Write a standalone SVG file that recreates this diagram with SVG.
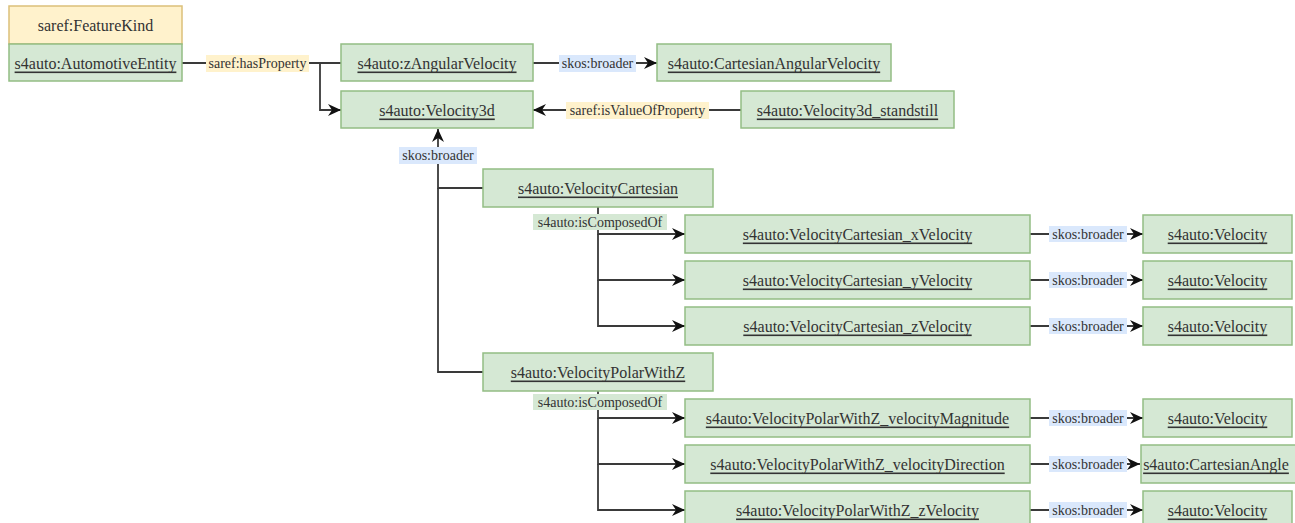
<svg xmlns="http://www.w3.org/2000/svg" width="1295" height="523" viewBox="0 0 1295 523">
  <style>
    .box { fill: #d5e8d4; stroke: #93bd84; stroke-width: 1.5; }
    .hdr { fill: #fff2cc; stroke: #dcc07a; stroke-width: 1.5; }
    .t { font-family: "Liberation Serif", "Times New Roman", serif; font-size: 16px; fill: #333333; text-anchor: middle; dominant-baseline: central; }
    .u { text-decoration: underline; }
    .ln { fill: none; stroke: #3a3a3a; stroke-width: 1.8; }
    .arr { marker-end: url(#head); }
    .lbl { font-family: "Liberation Serif", "Times New Roman", serif; font-size: 14px; fill: #333333; text-anchor: middle; dominant-baseline: central; }
    .bgY { fill: #fff2cc; }
    .bgB { fill: #dae8fc; }
    .bgG { fill: #d5e8d4; }
  </style>
  <defs>
    <marker id="head" viewBox="0 0 13 12" refX="13" refY="6" markerWidth="13" markerHeight="12" markerUnits="userSpaceOnUse" orient="auto">
      <path d="M0,0 L13,6 L0,12 L4,6 Z" fill="#111111"/>
    </marker>
  </defs>

  <rect width="1295" height="523" fill="#ffffff"/>

  <!-- connectors -->
  <g id="connectors">
    <!-- saref:hasProperty -->
    <path class="ln" d="M182,63 L341,63"/>
    <path class="ln arr" d="M320,63 L320,110 L341,110"/>
    <rect class="bgY" x="206" y="55" width="103" height="17"/>
    <text class="lbl" x="257.500" y="63">saref:hasProperty</text>

    <!-- zAngularVelocity skos:broader -->
    <path class="ln arr" d="M533,63 L657,63"/>
    <rect class="bgB" x="559" y="55" width="77" height="17"/>
    <text class="lbl" x="597.500" y="63">skos:broader</text>

    <!-- saref:isValueOfProperty -->
    <path class="ln arr" d="M741,110 L533,110"/>
    <rect class="bgY" x="566" y="102" width="143" height="17"/>
    <text class="lbl" x="637.500" y="110">saref:isValueOfProperty</text>

    <!-- skos:broader towards Velocity3d -->
    <path class="ln arr" d="M483,188 L438,188 L438,129"/>
    <path class="ln" d="M483,372 L438,372 L438,188"/>
    <rect class="bgB" x="399" y="147" width="78" height="17"/>
    <text class="lbl" x="438" y="155">skos:broader</text>

    <!-- VelocityCartesian isComposedOf -->
    <path class="ln arr" d="M598,207 L598,234 L685,234"/>
    <path class="ln arr" d="M598,234 L598,280 L685,280"/>
    <path class="ln arr" d="M598,280 L598,326 L685,326"/>
    <rect class="bgG" x="533" y="214" width="134" height="16"/>
    <text class="lbl" x="600" y="222">s4auto:isComposedOf</text>

    <!-- VelocityPolarWithZ isComposedOf -->
    <path class="ln arr" d="M598,391 L598,418 L685,418"/>
    <path class="ln arr" d="M598,418 L598,464 L685,464"/>
    <path class="ln arr" d="M598,464 L598,510 L685,510"/>
    <rect class="bgG" x="533" y="394" width="134" height="16"/>
    <text class="lbl" x="600" y="402">s4auto:isComposedOf</text>

    <!-- component skos:broader links -->
    <path class="ln arr" d="M1030,234 L1143,234"/>
    <path class="ln arr" d="M1030,280 L1143,280"/>
    <path class="ln arr" d="M1030,326 L1143,326"/>
    <path class="ln arr" d="M1030,418 L1143,418"/>
    <path class="ln arr" d="M1030,464 L1140,464"/>
    <path class="ln arr" d="M1030,510 L1143,510"/>
    <rect class="bgB" x="1049" y="226" width="78" height="16"/>
    <text class="lbl" x="1088" y="234">skos:broader</text>
    <rect class="bgB" x="1049" y="272" width="78" height="16"/>
    <text class="lbl" x="1088" y="280">skos:broader</text>
    <rect class="bgB" x="1049" y="318" width="78" height="16"/>
    <text class="lbl" x="1088" y="326">skos:broader</text>
    <rect class="bgB" x="1049" y="410" width="78" height="16"/>
    <text class="lbl" x="1088" y="418">skos:broader</text>
    <rect class="bgB" x="1049" y="456" width="78" height="16"/>
    <text class="lbl" x="1088" y="464">skos:broader</text>
    <rect class="bgB" x="1049" y="502" width="78" height="16"/>
    <text class="lbl" x="1088" y="510">skos:broader</text>
  </g>

  <!-- nodes -->
  <g id="automotiveEntity">
    <rect class="hdr" x="9" y="6" width="173" height="38"/>
    <text class="t" x="95.500" y="25">saref:FeatureKind</text>
    <rect class="box" x="9" y="44" width="173" height="37"/>
    <text class="t u" x="95.500" y="63">s4auto:AutomotiveEntity</text>
  </g>
  <g id="zAngularVelocity">
    <rect class="box" x="341" y="44" width="192" height="37"/>
    <text class="t u" x="437" y="63">s4auto:zAngularVelocity</text>
  </g>
  <g id="cartesianAngularVelocity">
    <rect class="box" x="657" y="44" width="234" height="37"/>
    <text class="t u" x="774" y="63">s4auto:CartesianAngularVelocity</text>
  </g>
  <g id="velocity3d">
    <rect class="box" x="341" y="91" width="192" height="37"/>
    <text class="t u" x="437" y="110">s4auto:Velocity3d</text>
  </g>
  <g id="velocity3dStandstill">
    <rect class="box" x="741" y="91" width="213" height="37"/>
    <text class="t u" x="847.500" y="110">s4auto:Velocity3d_standstill</text>
  </g>
  <g id="velocityCartesian">
    <rect class="box" x="483" y="169" width="230" height="38"/>
    <text class="t u" x="598" y="188">s4auto:VelocityCartesian</text>
  </g>
  <g id="velocityCartesianX">
    <rect class="box" x="685" y="215" width="345" height="38"/>
    <text class="t u" x="857.500" y="234">s4auto:VelocityCartesian_xVelocity</text>
  </g>
  <g id="velocityCartesianY">
    <rect class="box" x="685" y="261" width="345" height="38"/>
    <text class="t u" x="857.500" y="280">s4auto:VelocityCartesian_yVelocity</text>
  </g>
  <g id="velocityCartesianZ">
    <rect class="box" x="685" y="307" width="345" height="38"/>
    <text class="t u" x="857.500" y="326">s4auto:VelocityCartesian_zVelocity</text>
  </g>
  <g id="velocityPolarWithZ">
    <rect class="box" x="483" y="353" width="230" height="38"/>
    <text class="t u" x="598" y="372">s4auto:VelocityPolarWithZ</text>
  </g>
  <g id="velocityPolarMagnitude">
    <rect class="box" x="685" y="399" width="345" height="38"/>
    <text class="t u" x="857.500" y="418">s4auto:VelocityPolarWithZ_velocityMagnitude</text>
  </g>
  <g id="velocityPolarDirection">
    <rect class="box" x="685" y="445" width="345" height="38"/>
    <text class="t u" x="857.500" y="464">s4auto:VelocityPolarWithZ_velocityDirection</text>
  </g>
  <g id="velocityPolarZ">
    <rect class="box" x="685" y="491" width="345" height="38"/>
    <text class="t u" x="857.500" y="510">s4auto:VelocityPolarWithZ_zVelocity</text>
  </g>
  <g id="velocityX">
    <rect class="box" x="1143" y="215" width="149" height="38"/>
    <text class="t u" x="1217.500" y="234">s4auto:Velocity</text>
  </g>
  <g id="velocityY">
    <rect class="box" x="1143" y="261" width="149" height="38"/>
    <text class="t u" x="1217.500" y="280">s4auto:Velocity</text>
  </g>
  <g id="velocityZ">
    <rect class="box" x="1143" y="307" width="149" height="38"/>
    <text class="t u" x="1217.500" y="326">s4auto:Velocity</text>
  </g>
  <g id="velocityMagnitudeBroader">
    <rect class="box" x="1143" y="399" width="149" height="38"/>
    <text class="t u" x="1217.500" y="418">s4auto:Velocity</text>
  </g>
  <g id="cartesianAngle">
    <rect class="box" x="1141" y="445" width="160" height="38"/>
    <text class="t u" x="1216" y="464">s4auto:CartesianAngle</text>
  </g>
  <g id="velocityPolarZBroader">
    <rect class="box" x="1143" y="491" width="149" height="38"/>
    <text class="t u" x="1217.500" y="510">s4auto:Velocity</text>
  </g>
</svg>
